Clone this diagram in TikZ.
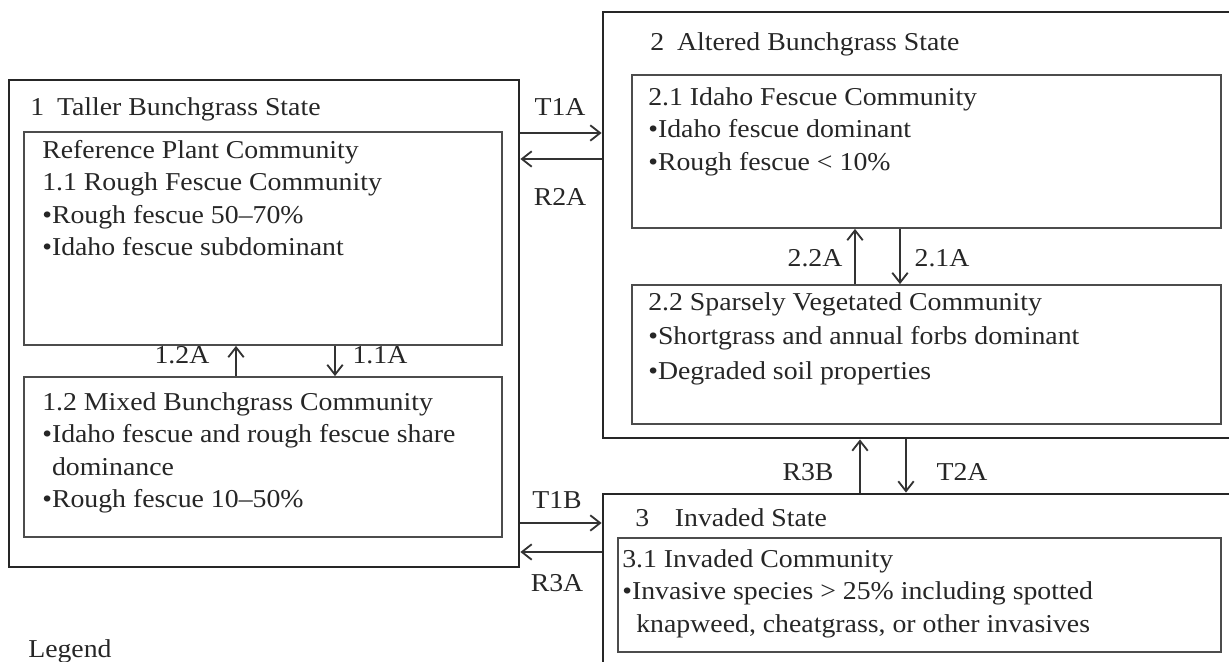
\documentclass[tikz,border=0pt]{standalone}
\usepackage{fontspec}
\setmainfont{Liberation Serif}[FakeStretch=1.08]
\usetikzlibrary{arrows.meta,fit}

\newcommand{\bodyfont}{\fontsize{18.3}{23}\selectfont}

\begin{document}
\begin{tikzpicture}[x=0.025cm, y=-0.025cm,
    >={Straight Barb[length=7pt,width=11pt]},
    statebox/.style={draw=black!85, line width=2pt, inner sep=0pt},
    commbox/.style={draw=black!70, line width=1.3pt, inner sep=0pt},
    txt/.style={anchor=north west, inner sep=0pt, align=left, text=black!85, font=\bodyfont},
    lbl/.style={inner sep=0pt, text=black!85, font=\bodyfont},
    trans/.style={->, draw=black!80, line width=1.3pt}]
    \clip (0,0) rectangle (1229,662);
    % States
    \node[statebox, fit={(9,80) (519,567)}] (s1) {};
    \node[statebox, fit={(603,12) (1250,438)}] (s2) {};
    \node[statebox, fit={(603,494) (1250,720)}] (s3) {};
    % Communities
    \node[commbox, fit={(24,132) (502,345)}] (c11) {};
    \node[commbox, fit={(24,377) (502,537)}] (c12) {};
    \node[commbox, fit={(632,75) (1221,228)}] (c21) {};
    \node[commbox, fit={(632,285) (1221,424)}] (c22) {};
    \node[commbox, fit={(618,538) (1221,652)}] (c31) {};
    % State titles
    \node[txt] (h1) at (30,92.4) {\strut 1\enspace Taller Bunchgrass State};
    \node[txt] (h2) at (650,27.4) {\strut 2\enspace Altered Bunchgrass State};
    \node[txt] (h3) at (635,503.4) {\strut 3\quad Invaded State};
    % Community texts
    \node[txt] (t11) at (42,135.4) {\strut Reference Plant Community\\
        1.1 Rough Fescue Community\\
        •Rough fescue 50–70\%\\
        •Idaho fescue subdominant};
    \node[txt] (t12) at (42,387.4) {\strut 1.2 Mixed Bunchgrass Community\\
        •Idaho fescue and rough fescue share\\
        \phantom{•}dominance\\
        •Rough fescue 10–50\%};
    \node[txt] (t21) at (648,82.4) {\strut 2.1 Idaho Fescue Community\\
        •Idaho fescue dominant\\
        •Rough fescue < 10\%};
    \node[txt] (t22) at (648,287.4) {\strut 2.2 Sparsely Vegetated Community\\[1.5pt]
        •Shortgrass and annual forbs dominant\\[1.5pt]
        •Degraded soil properties};
    \node[txt] (t31) at (622,544.4) {\strut 3.1 Invaded Community\\
        •Invasive species > 25\% including spotted\\
        \hspace{10pt}knapweed, cheatgrass, or other invasives};
    \node[txt] (legend) at (28,634.4) {\strut Legend};
    % Levels of the horizontal transitions
    \coordinate (y1) at (0,133);
    \coordinate (y2) at (0,159);
    \coordinate (y3) at (0,523);
    \coordinate (y4) at (0,552);
    % Positions of the vertical transitions
    \coordinate (x1) at (236,0);
    \coordinate (x2) at (335,0);
    \coordinate (x3) at (855,0);
    \coordinate (x4) at (900,0);
    \coordinate (x5) at (860,0);
    \coordinate (x6) at (906,0);
    % Transitions between states
    \draw[trans] (s1.east |- y1) -- (s2.west |- y1);
    \draw[trans] (s2.west |- y2) -- (s1.east |- y2);
    \draw[trans] (s1.east |- y3) -- (s3.west |- y3);
    \draw[trans] (s3.west |- y4) -- (s1.east |- y4);
    \draw[trans] (s3.north -| x5) -- (s2.south -| x5);
    \draw[trans] (s2.south -| x6) -- (s3.north -| x6);
    % Pathways inside states
    \draw[trans] (c12.north -| x1) -- (c11.south -| x1);
    \draw[trans] (c11.south -| x2) -- (c12.north -| x2);
    \draw[trans] (c22.north -| x3) -- (c21.south -| x3);
    \draw[trans] (c21.south -| x4) -- (c22.north -| x4);
    % Labels
    \node[lbl] (lT1A) at (560,107) {T1A};
    \node[lbl] (lR2A) at (560,197) {R2A};
    \node[lbl] (lT1B) at (557,500) {T1B};
    \node[lbl] (lR3A) at (557,583) {R3A};
    \node[lbl] (l12A) at (182,355) {1.2A};
    \node[lbl] (l11A) at (380,355) {1.1A};
    \node[lbl] (l22A) at (815,258) {2.2A};
    \node[lbl] (l21A) at (942,258) {2.1A};
    \node[lbl] (lR3B) at (808,472) {R3B};
    \node[lbl] (lT2A) at (962,472) {T2A};
\end{tikzpicture}
\end{document}
